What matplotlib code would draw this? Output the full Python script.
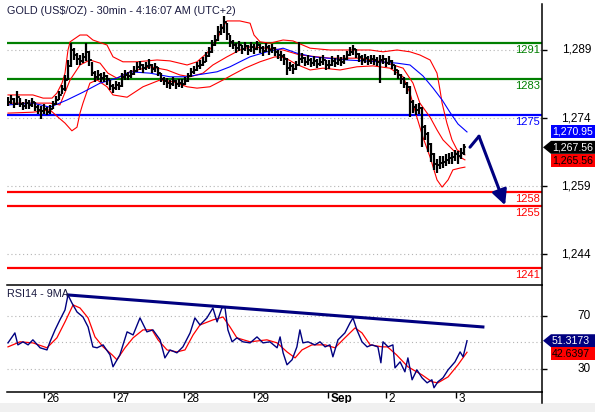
import matplotlib
matplotlib.use("Agg")
import matplotlib.pyplot as plt
from matplotlib import transforms
from matplotlib.patches import Polygon, Rectangle
from matplotlib.lines import Line2D

plt.rcParams['font.family'] = ['Liberation Sans', 'DejaVu Sans']

# 1-hour bars, index 0 = first bar on the chart (Aug 25 evening)
closes = [1277.5, 1278.3, 1277.0, 1278.6, 1277.2, 1276.6, 1277.4, 1276.8, 1277.5, 1276.4,
          1275.8, 1275.6, 1276.0, 1275.4, 1276.1, 1277.0, 1278.0, 1279.0, 1280.5, 1282.5,
          1285.5, 1289.0, 1288.0, 1287.0, 1286.6, 1287.4, 1288.5, 1286.8, 1284.0, 1283.0,
          1283.4, 1282.8, 1283.2, 1282.6, 1281.0, 1280.6, 1281.2, 1281.0, 1283.0, 1283.6,
          1283.2, 1283.8, 1284.4, 1285.2, 1285.6, 1285.0, 1285.4, 1285.8, 1284.8, 1285.2,
          1284.0, 1282.6, 1282.2, 1281.8, 1281.6, 1282.2, 1281.4, 1281.8, 1281.6, 1282.2,
          1283.2, 1284.2, 1284.6, 1285.4, 1285.8, 1286.4, 1287.6, 1288.6, 1290.0, 1291.2,
          1293.0, 1293.8, 1295.2, 1292.5, 1290.8, 1290.2, 1289.4, 1290.0, 1289.2, 1289.8,
          1289.0, 1289.6, 1289.3, 1290.0, 1289.4, 1288.8, 1289.6, 1289.0, 1289.4, 1288.6,
          1288.0, 1287.6, 1287.0, 1285.0, 1285.4, 1284.8, 1285.6, 1287.0, 1287.2, 1286.4,
          1286.8, 1286.2, 1286.6, 1286.0, 1286.4, 1286.8, 1285.6, 1285.8, 1286.6, 1286.2,
          1286.8, 1286.4, 1287.0, 1287.8, 1288.6, 1289.2, 1288.2, 1287.4, 1286.8, 1287.2,
          1286.6, 1287.0, 1286.8, 1286.4, 1286.8, 1287.0, 1286.2, 1286.6, 1285.8, 1284.6,
          1283.4, 1282.6, 1281.6, 1280.8, 1277.6, 1276.4, 1275.8, 1276.2, 1272.0, 1270.6,
          1268.2, 1266.0, 1264.0, 1263.6, 1264.2, 1264.4, 1264.8, 1265.2, 1265.4, 1266.0,
          1265.6, 1266.4, 1267.56]
highs = [1278.6, 1279.0, 1278.4, 1280.0, 1278.5, 1277.6, 1278.2, 1277.9, 1278.4, 1277.6,
         1276.8, 1276.7, 1277.0, 1276.4, 1276.9, 1277.8, 1278.9, 1279.9, 1281.3, 1283.4,
         1286.8, 1290.6, 1289.4, 1288.3, 1287.8, 1288.4, 1290.6, 1288.7, 1286.3, 1284.3,
         1284.5, 1283.9, 1284.1, 1283.6, 1282.4, 1281.5, 1282.2, 1282.0, 1284.0, 1284.6,
         1284.2, 1284.7, 1285.4, 1286.3, 1286.6, 1286.0, 1286.4, 1287.0, 1286.0, 1286.1,
         1285.3, 1284.0, 1283.1, 1282.8, 1282.5, 1283.0, 1282.4, 1282.7, 1282.6, 1283.0,
         1284.0, 1285.0, 1285.5, 1286.3, 1286.7, 1287.4, 1288.5, 1289.6, 1291.2, 1292.3,
         1294.2, 1294.8, 1296.4, 1294.9, 1292.4, 1291.3, 1290.5, 1291.0, 1290.2, 1290.8,
         1290.1, 1290.7, 1290.3, 1291.0, 1290.4, 1289.9, 1290.5, 1290.0, 1290.4, 1289.6,
         1289.0, 1288.7, 1288.1, 1287.2, 1286.4, 1285.9, 1286.6, 1290.8, 1288.3, 1287.4,
         1287.8, 1287.2, 1287.6, 1287.0, 1287.4, 1287.8, 1286.8, 1286.8, 1287.6, 1287.2,
         1287.8, 1287.4, 1288.0, 1288.8, 1289.6, 1290.0, 1289.2, 1288.4, 1287.8, 1288.2,
         1287.6, 1288.0, 1287.8, 1287.4, 1287.8, 1288.0, 1287.2, 1287.6, 1286.8, 1285.8,
         1284.6, 1283.8, 1283.0, 1282.0, 1281.0, 1278.0, 1277.2, 1277.4, 1276.4, 1272.4,
         1271.0, 1268.6, 1266.4, 1265.0, 1265.6, 1265.6, 1266.0, 1266.4, 1266.6, 1267.0,
         1266.8, 1267.4, 1268.4]
lows = [1276.6, 1277.0, 1276.2, 1276.9, 1276.4, 1275.8, 1276.0, 1275.9, 1276.5, 1275.6,
        1274.9, 1273.8, 1275.0, 1274.6, 1275.0, 1275.9, 1276.8, 1277.9, 1279.2, 1280.0,
        1282.3, 1285.2, 1286.9, 1285.8, 1285.6, 1286.2, 1286.6, 1285.4, 1283.2, 1282.0,
        1282.3, 1281.9, 1282.0, 1281.2, 1280.2, 1279.6, 1280.1, 1280.2, 1280.9, 1282.5,
        1282.3, 1282.8, 1283.5, 1284.2, 1284.7, 1284.0, 1284.5, 1284.8, 1284.0, 1284.2,
        1283.2, 1281.9, 1281.2, 1280.6, 1280.5, 1281.1, 1280.3, 1280.8, 1280.7, 1281.2,
        1282.0, 1283.1, 1283.7, 1284.4, 1284.9, 1285.4, 1286.3, 1287.4, 1288.4, 1289.8,
        1290.9, 1292.4, 1292.8, 1291.2, 1289.6, 1289.2, 1288.4, 1288.8, 1288.1, 1288.7,
        1288.0, 1288.5, 1288.2, 1288.9, 1288.3, 1287.6, 1288.5, 1288.0, 1288.3, 1287.6,
        1287.0, 1286.6, 1285.8, 1283.5, 1284.3, 1283.8, 1284.6, 1285.4, 1286.1, 1285.4,
        1285.8, 1285.2, 1285.5, 1285.0, 1285.4, 1285.7, 1284.6, 1284.9, 1285.5, 1285.2,
        1285.8, 1285.4, 1286.0, 1286.8, 1287.6, 1288.0, 1287.2, 1286.4, 1285.8, 1286.2,
        1285.6, 1286.0, 1285.8, 1285.4, 1281.7, 1286.0, 1285.2, 1285.6, 1284.8, 1283.6,
        1282.6, 1281.6, 1280.6, 1279.4, 1274.2, 1275.2, 1274.6, 1274.8, 1267.6, 1269.2,
        1266.6, 1264.4, 1262.6, 1261.9, 1262.8, 1263.0, 1263.4, 1263.8, 1264.0, 1264.6,
        1263.8, 1265.0, 1265.8]

# bollinger bands
bb_up_x = [0, 8.3, 11.7, 14.7, 16.3, 18, 19, 20, 20.7, 24, 26.3, 28.3, 33, 35, 38.3, 43,
           49.7, 54, 59.7, 63, 66.3, 69.7, 71.3, 73, 77.3, 80.7, 82, 84, 87.3, 91.7, 95,
           100.7, 107.3, 120.7, 125, 129.7, 134, 137.3, 140.7, 143, 144, 144.7, 146.3,
           148, 149.7, 152.3]
bb_up = [1279.1, 1279.1, 1278.4, 1278.4, 1279.5, 1281.7, 1283.9, 1289.0, 1290.8, 1292.3,
         1292.3, 1291.2, 1290.1, 1287.5, 1286.4, 1286.4, 1286.8, 1286.6, 1285.7, 1286.4,
         1288.3, 1291.2, 1293.8, 1295.4, 1295.4, 1294.9, 1292.3, 1290.8, 1290.5, 1291.2,
         1291.0, 1289.4, 1289.0, 1289.0, 1288.6, 1289.0, 1288.6, 1287.9, 1286.8, 1283.9,
         1280.2, 1277.3, 1272.9, 1269.2, 1267.0, 1265.9]
bb_mid_x = [0, 14, 17.3, 20.7, 24, 27.3, 30.7, 33.3, 36.3, 40.7, 47.3, 53, 57.3, 60.7, 65,
            68.3, 73, 77.3, 80.7, 86.3, 91.7, 97.3, 107.3, 117.3, 125, 131.7, 135, 137.3,
            140.7, 143, 145, 148.3, 150.7, 152.3]
bb_mid = [1277.3, 1277.3, 1276.9, 1282.4, 1285.7, 1286.8, 1286.1, 1283.9, 1282.8, 1284.2,
          1285.3, 1284.6, 1283.5, 1283.1, 1283.9, 1285.7, 1287.5, 1289.0, 1289.7, 1289.4,
          1289.0, 1287.9, 1287.2, 1287.2, 1286.4, 1285.0, 1281.7, 1277.3, 1274.2, 1271.4,
          1269.2, 1267.0, 1265.4, 1264.8]
bb_low_x = [0, 8.3, 14, 16.7, 19, 21.3, 23, 24, 25, 27.3, 29.7, 33, 35, 39.7, 45, 50.7, 55,
            59.7, 63, 67.3, 71.7, 74.7, 79, 84, 89, 92.3, 96.3, 100.7, 105, 110.7, 116.3,
            121.7, 127.3, 131.7, 134, 136.3, 138.3, 140.7, 143, 144.7, 146.7, 148.3, 150.7,
            152.3]
bb_low = [1275.1, 1275.3, 1275.8, 1274.2, 1272.9, 1271.2, 1272.0, 1275.1, 1277.3, 1281.7,
          1282.4, 1280.9, 1279.1, 1278.6, 1280.9, 1282.4, 1282.0, 1280.9, 1280.6, 1280.9,
          1282.4, 1283.5, 1285.0, 1286.4, 1287.5, 1287.3, 1285.8, 1284.6, 1285.0, 1284.6,
          1285.3, 1285.5, 1285.0, 1283.1, 1279.5, 1274.2, 1269.8, 1265.4, 1260.4, 1258.8,
          1260.4, 1262.6, 1263.0, 1263.2]

# slower moving average (blue)
ma_x = [0, 8.3, 14, 19.7, 25, 30.7, 36.3, 40.7, 47.3, 54, 59.7, 63, 69.7, 74, 77.3, 80.7,
        86.3, 91.7, 96.3, 101.7, 113, 124, 129.7, 134, 138.3, 141.7, 144.7, 147.3, 150, 153]
ma = [1276.9, 1277.3, 1276.4, 1278.0, 1279.7, 1281.7, 1282.8, 1284.2, 1283.9, 1283.1,
      1283.1, 1283.5, 1284.2, 1285.3, 1286.4, 1287.5, 1288.6, 1289.4, 1288.3, 1287.5,
      1286.8, 1286.4, 1286.1, 1285.7, 1283.3, 1280.6, 1278.0, 1275.3, 1272.7, 1270.95]

# RSI(14) and its 9-period MA
rsi_x = [0, 2.3, 3.3, 5, 6.7, 8.3, 10.7, 13, 14, 15.7, 17.3, 19, 20, 21.3, 23, 25, 26.7,
         28.3, 29.7, 31.7, 34, 35, 37.3, 39.7, 41.7, 44, 46.3, 48.3, 50.7, 52.3, 54, 56.3,
         58.3, 60.7, 62.3, 64, 66.3, 68.3, 69.7, 71.3, 72.3, 73.3, 74.7, 76.3, 78.3, 80.7,
         83, 85, 87.3, 89.7, 90.7, 91.7, 93, 94.7, 96.3, 97.3, 98.3, 100, 102.3, 104, 105.7,
         107.3, 108.3, 110, 112.3, 114, 115, 116.3, 118, 119.7, 121.3, 123.3, 124.3, 125,
         126.7, 128.3, 129, 130.7, 132.3, 133.3, 134.7, 136.3, 138, 139.7, 141.3, 142,
         143.3, 145, 146.7, 149, 150.7, 151.7, 153]
rsi = [49.7, 57.2, 48.2, 50.5, 48.2, 52.0, 46.0, 44.4, 50.5, 59.5,
       67.0, 74.5, 85.8, 79.8, 73.0, 69.2, 61.7, 46.7, 46.0, 48.2,
       40.7, 31.7, 40.7, 58.0, 55.7, 68.5, 58.0, 59.5, 52.0, 38.4,
       44.4, 42.2, 46.7, 57.2, 68.5, 63.2, 68.5, 76.0, 65.5, 76.0,
       76.8, 59.5, 50.5, 53.5, 50.5, 49.7, 54.2, 49.7, 50.5, 46.0,
       54.2, 42.2, 33.2, 37.0, 46.7, 59.5, 49.7, 50.5, 48.2, 50.5,
       46.7, 48.2, 39.2, 52.0, 57.2, 64.7, 68.5, 59.5, 50.5, 46.7,
       48.2, 46.7, 34.7, 50.5, 46.7, 48.2, 30.9, 35.4, 27.9, 38.4,
       21.9, 29.4, 23.4, 19.6, 21.9, 15.9, 20.4, 23.4, 29.4, 35.4,
       42.9, 39.2, 51.3173]
rsi_ma_x = [0, 4, 8.3, 13, 16.3, 19, 21.7, 24, 26.7, 29, 31.7, 34.7, 36.3, 39, 41.7, 45,
            48, 50, 53, 56.3, 59, 61.7, 64, 68.3, 71.7, 74, 76.3, 80.7, 86.3, 89.7, 93,
            95.7, 98, 101.3, 105.7, 109, 112.3, 115.7, 118, 120.7, 124.7, 126.5, 129.5,
            133.3, 138, 141.3, 143.3, 146.7, 150, 153]
rsi_ma = [46.7, 50.5, 49.7, 46.0, 53.5, 65.5, 78.3, 76.0, 68.5, 54.2,
          46.7, 40.7, 37.0, 46.0, 53.5, 59.5, 59.5, 52.0, 44.4, 42.9,
          44.4, 55.7, 63.2, 67.0, 69.2, 61.7, 53.5, 50.5, 52.0, 49.7,
          42.9, 38.4, 44.4, 48.2, 48.2, 46.0, 53.5, 61.0, 57.2, 48.2,
          46.7, 46.7, 40.7, 31.7, 25.6, 20.4, 19.6, 24.1, 33.2, 42.6397]

# drawn levels
levels = [1290.6, 1282.7, 1274.7, 1257.8, 1254.7, 1240.9]
level_labels = ['1291', '1283', '1275', '1258', '1255', '1241']
level_colors = ['#008000', '#008000', '#0000ff', '#ff0000', '#ff0000', '#ff0000']

# projected path + rsi trendline
proj_x = [154, 157, 165.7]
proj_y = [1267.6, 1270.0, 1254.8]
rsi_trend_x = [20, 158.3]
rsi_trend_y = [85.8, 61.7]

price_ticks = [1289, 1274, 1259, 1244]
price_tick_labels = ['1,289', '1,274', '1,259', '1,244']
rsi_ticks = [70, 30]
rsi_grid = [70, 50, 30]

day_pos = [12, 35.3, 58.7, 82, 106.7, 126, 149.3]
day_labels = ['26', '27', '28', '29', 'Sep', '2', '3']

last_ma = 1270.95
last_close = 1267.56
last_band = 1265.56
last_rsi = 51.3173
last_rsi_ma = 42.6397

NAVY = '#000080'
TXT = '#1a1a40'
W, H = 595, 412
fig = plt.figure(figsize=(W / 100, H / 100), dpi=100)
fig.patch.set_facecolor('white')
fig.patches.append(Rectangle((0, 0), 1, 9 / H, transform=fig.transFigure,
                             facecolor='#f0f0f0', edgecolor='none', zorder=0))

ax = fig.add_axes([7 / W, 1 - 285 / H, 535 / W, 281 / H])
ax2 = fig.add_axes([7 / W, 1 - 392 / H, 535 / W, 107 / H])

for a in (ax, ax2):
    a.set_xlim(-0.33, 178)
    a.spines['left'].set_visible(False)
    for s in ('right', 'top', 'bottom'):
        a.spines[s].set_linewidth(1.1)
    a.yaxis.tick_right()
    a.tick_params(axis='y', direction='out', length=3.6, width=1, labelright=False)
    a.set_facecolor('none')
ax.spines['top'].set_visible(False)
ax.spines['bottom'].set_visible(False)

# ---------------- price panel ----------------
ax.set_ylim(1237.24, 1299.13)
ax.set_yticks(price_ticks)
ax.set_xticks([])
for p in price_ticks:
    ax.axhline(p, color='#b4b4b4', lw=0.8, ls=(0, (1, 2.5)), zorder=1)

for lvl, c in zip(levels, level_colors):
    ax.axhline(lvl, color=c, lw=1.6, zorder=2)
for lvl, lbl, c in zip(levels, level_labels, level_colors):
    ax.annotate(lbl, xy=(1, lvl), xycoords=('axes fraction', 'data'),
                xytext=(-1.5, -1.5), textcoords='offset points',
                ha='right', va='top', color=c, fontsize=8)

ax.plot(bb_up_x, bb_up, color='#ff0000', lw=0.8, zorder=3)
ax.plot(bb_mid_x, bb_mid, color='#ff0000', lw=0.8, zorder=3)
ax.plot(bb_low_x, bb_low, color='#ff0000', lw=0.8, zorder=3)
ax.plot(ma_x, ma, color='#0000ff', lw=0.8, zorder=3)

xs = list(range(len(closes)))
opens = [closes[0]] + closes[:-1]
ax.vlines(xs, lows, highs, color='black', lw=1.6, zorder=4)
ax.hlines(closes, xs, [x + 0.8 for x in xs], color='black', lw=1.2, zorder=4)
ax.hlines(opens, [x - 0.8 for x in xs], xs, color='black', lw=1.2, zorder=4)

ax.plot(proj_x[:2], proj_y[:2], color=NAVY, lw=2.2, solid_capstyle='round', zorder=5)
ax.annotate('', xy=(proj_x[2], proj_y[2]), xytext=(proj_x[1], proj_y[1]),
            arrowprops=dict(arrowstyle='-|>,head_length=0.9,head_width=0.45',
                            color=NAVY, lw=2.2, shrinkA=0, shrinkB=0), zorder=5)

price_tag_h = 13 / (281 / (1299.13 - 1237.24))


def tag(a, y, h, text, face, fg, arrow=False):
    tr = transforms.blended_transform_factory(a.transAxes, a.transData)
    x0, x1 = 1.0168, 1.12
    if arrow:
        verts = [(1.0019, y), (x0, y + h / 2), (x1, y + h / 2), (x1, y - h / 2), (x0, y - h / 2)]
    else:
        verts = [(x0, y + h / 2), (x1, y + h / 2), (x1, y - h / 2), (x0, y - h / 2)]
    a.add_patch(Polygon(verts, closed=True, transform=tr, facecolor=face,
                        edgecolor='none', clip_on=False, zorder=6))
    a.text(x0 + 0.002, y, text, transform=tr, color=fg, va='center', ha='left',
           fontsize=7.6, clip_on=False, zorder=7)


for p, lbl in zip(price_ticks, price_tick_labels):
    ax.text(1.0916, p, lbl, transform=transforms.blended_transform_factory(ax.transAxes, ax.transData),
            ha='right', va='center', fontsize=8.5, color='black')

tag(ax, last_ma, price_tag_h, f'{last_ma:,.2f}', '#0000ff', 'white')
tag(ax, last_close, price_tag_h, f'{last_close:,.2f}', 'black', 'white', arrow=True)
tag(ax, last_close - price_tag_h, price_tag_h, f'{last_band:,.2f}', '#ff0000', 'black')

fig.text(7 / W, 1 - 11 / H, 'GOLD (US$/OZ) - 30min - 4:16:07 AM (UTC+2)',
         va='center', ha='left', fontsize=7.8, color=TXT)

# ---------------- RSI panel ----------------
ax2.set_ylim(12.7, 93.3)
ax2.set_yticks(rsi_ticks)
for g in rsi_grid:
    ax2.axhline(g, color='#b4b4b4', lw=0.8, ls=(0, (1, 2.5)), zorder=1)
ax2.plot(rsi_ma_x, rsi_ma, color='#ff0000', lw=0.9, zorder=3)
ax2.plot(rsi_x, rsi, color=NAVY, lw=1.0, zorder=3)
ax2.plot(rsi_trend_x, rsi_trend_y, color=NAVY, lw=2.2, zorder=4)

for r in rsi_ticks:
    ax2.text(1.0916, r, str(r), transform=transforms.blended_transform_factory(ax2.transAxes, ax2.transData),
             ha='right', va='center', fontsize=8.5, color='black')
rsi_tag_h = 13 / (107 / (93.3 - 12.7))
tag(ax2, last_rsi, rsi_tag_h, f'{last_rsi:.4f}', NAVY, 'white', arrow=True)
tag(ax2, last_rsi - rsi_tag_h, rsi_tag_h, f'{last_rsi_ma:.4f}', '#ff0000', 'black')

fig.text(7 / W, 1 - 294 / H, 'RSI14 - 9MA', va='center', ha='left', fontsize=7.8, color=TXT)

ax2.set_xticks(day_pos)
ax2.tick_params(axis='x', direction='out', length=4.3, width=1, labelbottom=False)
for p, lbl in zip(day_pos, day_labels):
    ax2.annotate(lbl, xy=(p, 0), xycoords=('data', 'axes fraction'), xytext=(2, -0.5),
                 textcoords='offset points', ha='left', va='top', fontsize=8.5,
                 fontweight='bold' if lbl == 'Sep' else 'normal')

fig.add_artist(Line2D([542 / W, 542 / W], [1 - 392 / H, 1 - 403 / H],
                      transform=fig.transFigure, color='black', lw=1.1))

fig.savefig('out.png', dpi=100)
